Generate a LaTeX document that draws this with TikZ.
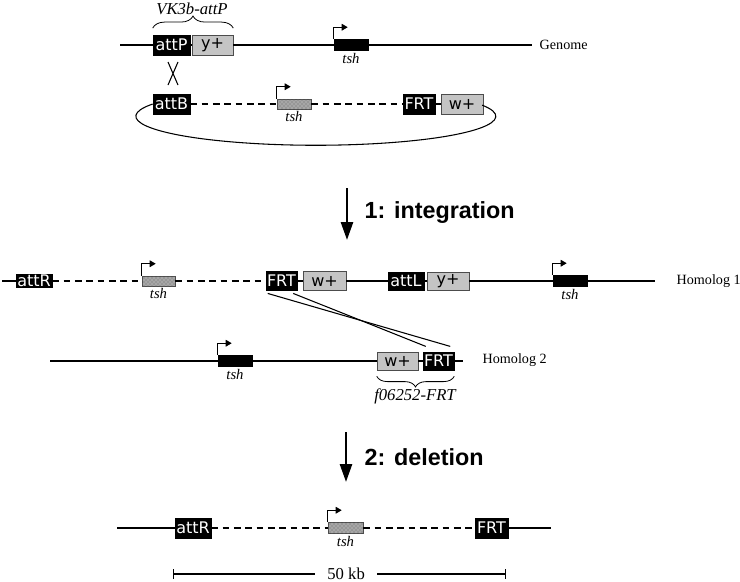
\documentclass[tikz,border=0pt]{standalone}
\usepackage{fontspec}
\setmainfont{Liberation Serif}
\newfontfamily\boxfont{DejaVu Sans}
\newfontfamily\stepfont{Liberation Sans}
\usetikzlibrary{arrows.meta,positioning,patterns,decorations.pathreplacing}

\begin{document}
\begin{tikzpicture}[x=0.75pt,y=-0.75pt]
       \tikzstyle{blk}=[fill=black,draw=black,text=white,inner sep=0pt,font=\boxfont\fontsize{12}{12}\selectfont]
       \tikzstyle{gry}=[fill=black!23,draw=black!70,inner sep=0pt,font=\boxfont\fontsize{12}{12}\selectfont]
       \tikzstyle{hatch}=[fill=black!35,draw=black!70,inner sep=0pt,postaction={pattern=crosshatch dots,pattern color=black!60}]
       \tikzstyle{gene}=[fill=black,draw=black,inner sep=0pt]
       \tikzstyle{chr}=[line width=2pt]
       \tikzstyle{ins}=[line width=2pt,dash pattern=on 5pt off 3.5pt]
       \tikzstyle{link}=[line width=0.8pt]
       \tikzstyle{prom}=[line width=0.8pt,-{Triangle[length=4.5pt,width=5pt]}]
       \tikzstyle{bigarrow}=[line width=2pt,-{Triangle[length=13.5pt,width=9pt]}]
       \tikzstyle{stp}=[font=\stepfont\bfseries\fontsize{17.5}{18}\selectfont]
       \tikzstyle{lbl}=[font=\fontsize{10.6}{12}\selectfont]
       \tikzstyle{gname}=[font=\itshape\fontsize{11}{12}\selectfont,inner sep=1.5pt]
       \tikzstyle{alias}=[font=\itshape\fontsize{12.5}{13}\selectfont]
       \tikzstyle{brc}=[line width=0.6pt,decorate]
       \tikzset{sz/.style 2 args={minimum width=#1*0.75pt,minimum height=#2*0.75pt}}

       \useasboundingbox (0,0) rectangle (740,582);

       % genome
       \coordinate (gL) at (120,45);
       \coordinate (gR) at (532,45);
       \node[blk,sz={37}{20}] (attP) at (171.5,45) {attP};
       \node[gry,sz={41}{20}] (yP) at (212.5,45) {y+};
       \node[gene,sz={34}{11}] (tshG) at (351,45) {};
       \node[lbl,anchor=west] (genome) at (535,45) {Genome};
       \draw[chr] (gL) -- (attP) -- (yP) -- (tshG) -- (gR);
       \draw[brc,decoration={brace,amplitude=9pt}]
              ([yshift=5pt]attP.north west) -- ([yshift=5pt]yP.north east);
       \node[alias] (vk) at (192,9) {VK3b-attP};
       \draw[link] (168,62) -- (178,85) (178,62) -- (168,85);

       % plasmid
       \node[blk,sz={37}{20}] (attB) at (171.5,104) {attB};
       \node[hatch,sz={34}{10}] (tshP) at (294,104) {};
       \node[blk,sz={32}{20}] (frtP) at (419,104) {FRT};
       \node[gry,sz={42}{20}] (wP) at (462,104) {w+};
       \draw[ins] (attB) -- (tshP) -- (frtP);
       \draw[link] (frtP) -- (wP);
       \draw[link] (attB.west) arc[start angle=205,end angle=-22.5,x radius=180,y radius=29];

       \coordinate (i1) at (347,188);
       \coordinate (i2) at (347,240);
       \draw[bigarrow] (i1) -- (i2);
       \node[stp,anchor=west] (integ) at (360,213) {1: integration};

       % homolog 1
       \coordinate (h1L) at (2,281);
       \node[blk,sz={36}{13}] (attR) at (34,281) {attR};
       \node[hatch,sz={33}{10}] (tshA) at (158.5,281) {};
       \node[blk,sz={31}{19}] (frtA) at (281.5,281) {FRT};
       \node[gry,sz={43}{19}] (wA) at (324.5,281) {w+};
       \node[blk,sz={36}{18}] (attL) at (406,281) {attL};
       \node[gry,sz={42}{18}] (yA) at (448,281) {y+};
       \node[gene,sz={34}{11}] (tshB) at (570,281) {};
       \coordinate (h1R) at (655,281);
       \node[lbl,anchor=west] (hom1) at (672,281) {Homolog 1};
       \draw[chr] (h1L) -- (attR) (attL) -- (yA) -- (tshB) -- (h1R);
       \draw[ins] (attR) -- (tshA) -- (frtA);
       \draw[link] (frtA) -- (wA) -- (attL);

       % homolog 2
       \coordinate (h2L) at (50,361);
       \node[gene,sz={34}{11}] (tshC) at (235,361) {};
       \node[gry,sz={41}{18}] (wB) at (397.5,361) {w+};
       \node[blk,sz={31}{18}] (frtB) at (438.5,361) {FRT};
       \coordinate (h2R) at (463,361);
       \node[lbl,anchor=west] (hom2) at (478,360) {Homolog 2};
       \draw[chr] (h2L) -- (tshC) -- (wB) (frtB) -- (h2R);
       \draw[link] (wB) -- (frtB);
       \draw[brc,decoration={brace,mirror,amplitude=8pt}]
              ([yshift=-4.5pt]wB.south west) -- ([yshift=-4.5pt]frtB.south east);
       \node[alias] (fline) at (415,396) {f06252-FRT};

       \draw[link] ([xshift=1.5pt,yshift=-2pt]frtA.south west) -- ([xshift=-3pt,yshift=4pt]frtB.north east);
       \draw[link] ([xshift=-3pt,yshift=-2pt]frtA.south east) -- ([xshift=2.25pt,yshift=4pt]frtB.north west);

       \coordinate (d1) at (346,432);
       \coordinate (d2) at (346,482);
       \draw[bigarrow] (d1) -- (d2);
       \node[stp,anchor=west] (delet) at (360,457) {2: deletion};

       % deletion
       \coordinate (fL) at (117,528);
       \node[blk,sz={36}{20}] (attR2) at (193,528) {attR};
       \node[hatch,sz={35}{11}] (tshD) at (345.5,528) {};
       \node[blk,sz={33}{20}] (frtC) at (491.5,528) {FRT};
       \coordinate (fR) at (551,528);
       \draw[chr] (fL) -- (attR2) (frtC) -- (fR);
       \draw[ins] (attR2) -- (tshD) -- (frtC);

       \foreach \g in {tshG,tshP,tshA,tshB,tshC,tshD}{
              \draw[prom] (\g.north west) |- ++(14,-12);
              \node[gname,below=0pt of \g] (\g lab) {tsh};
       }

       \coordinate (sbL) at (173,574);
       \coordinate (sbR) at (506,574);
       \draw[link,{Bar[width=7pt]}-{Bar[width=7pt]}] (sbL) -- node[pos=0.52,fill=white,inner xsep=9pt,font=\fontsize{12.5}{13}\selectfont] (kb) {50 kb} (sbR);
     \end{tikzpicture}
\end{document}
